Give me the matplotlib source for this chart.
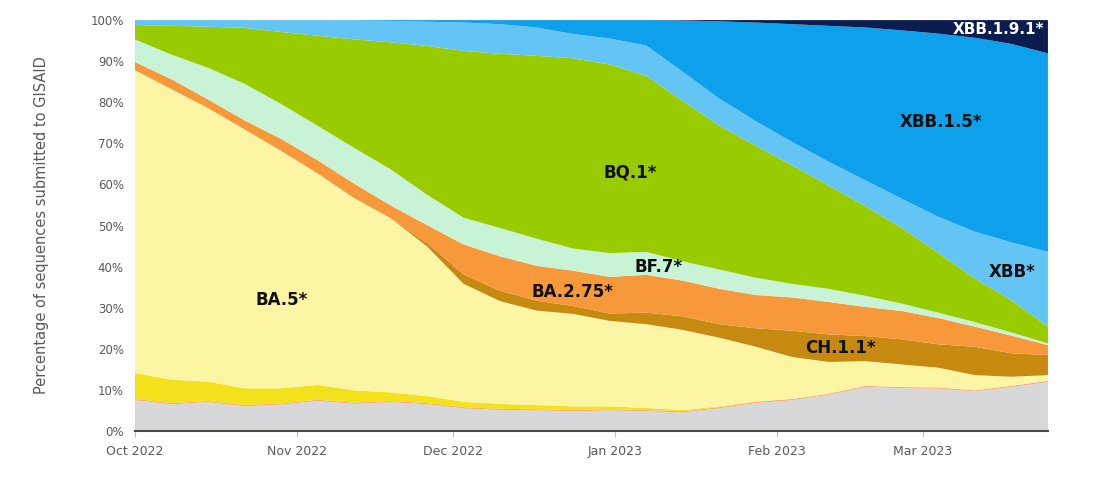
import matplotlib
matplotlib.use("Agg")
import matplotlib.pyplot as plt
import matplotlib.dates as mdates
import numpy as np
import pandas as pd

# Weekly sample dates (Oct 1 2022 .. Mar 25 2023)
dates = pd.date_range("2022-10-01", periods=26, freq="7D")

# Variant shares (% of sequences), bottom to top of the stack
other = [7.5, 6.5, 7.0, 6.0, 6.4, 7.3, 6.6, 7.0, 6.5, 5.5, 5.1, 5.0, 4.8,
         5.0, 4.8, 4.5, 5.5, 6.8, 7.5, 8.8, 10.7, 10.4, 10.3, 9.6, 10.7, 11.9]
ba2 = [0.3] * 26
ba46 = [6.3, 5.7, 4.7, 4.1, 3.7, 3.6, 3.0, 2.1, 1.7, 1.3, 1.2, 1.0, 0.9,
        0.7, 0.5, 0.3, 0.2, 0.1, 0.0, 0.0, 0.0, 0.0, 0.0, 0.0, 0.0, 0.0]
ba5 = [73.7, 70.7, 66.6, 63.0, 57.8, 51.5, 46.8, 42.4, 36.4, 28.7, 25.0, 23.0, 22.5,
       20.8, 20.4, 19.5, 16.7, 13.3, 10.2, 7.7, 6.0, 5.5, 4.8, 3.7, 2.2, 1.4]
ch11 = [0.0, 0.0, 0.0, 0.0, 0.0, 0.0, 0.0, 0.0, 0.8, 2.3, 2.5, 2.4, 1.9,
        1.8, 2.8, 3.3, 3.3, 4.5, 6.4, 6.7, 6.1, 6.1, 5.7, 6.9, 5.7, 4.9]
ba275 = [2.0, 2.4, 2.1, 2.2, 2.9, 3.2, 3.5, 3.1, 4.4, 7.3, 8.4, 8.5, 8.6,
         8.9, 9.2, 8.7, 8.6, 8.1, 8.1, 7.9, 7.1, 6.9, 6.4, 4.9, 4.3, 2.4]
bf7 = [5.5, 6.0, 7.7, 8.9, 8.5, 8.4, 8.7, 8.8, 7.4, 6.5, 6.9, 6.6, 5.4,
       5.8, 5.6, 4.7, 4.7, 4.2, 3.3, 3.2, 2.7, 1.8, 1.3, 1.1, 0.8, 0.4]
bq1 = [3.5, 7.0, 10.0, 13.6, 17.5, 21.9, 26.4, 30.9, 36.2, 40.6, 42.4, 44.5, 46.3,
       45.9, 42.8, 39.0, 35.0, 32.1, 28.8, 25.1, 21.8, 18.4, 14.5, 10.6, 7.8, 4.1]
xbb = [1.2, 1.4, 1.6, 1.9, 2.9, 3.8, 4.6, 5.2, 5.9, 6.9, 7.2, 6.9, 5.9,
       6.3, 7.4, 7.1, 6.6, 6.0, 5.7, 5.8, 6.3, 7.1, 8.8, 11.4, 14.1, 18.2]
xbb15 = [0.0, 0.0, 0.0, 0.0, 0.0, 0.0, 0.1, 0.2, 0.4, 0.6, 1.0, 1.8, 3.4,
         4.5, 6.2, 12.5, 18.8, 24.0, 28.7, 33.1, 37.2, 41.0, 44.6, 47.2, 48.3, 48.3]
xbb191 = [0.0, 0.0, 0.0, 0.0, 0.0, 0.0, 0.0, 0.0, 0.0, 0.0, 0.0, 0.0, 0.0,
          0.0, 0.0, 0.1, 0.3, 0.6, 1.0, 1.4, 1.8, 2.5, 3.3, 4.3, 5.8, 8.1]

series = [other, ba2, ba46, ba5, ch11, ba275, bf7, bq1, xbb, xbb15, xbb191]
colors = ["#d8d8da", "#f5ad7c", "#f3e11c", "#fcf5a3", "#c68a10", "#f7983a",
          "#c9f3d6", "#98cb00", "#64c5f5", "#0ea0ea", "#0b1d50"]

vals = np.array(series, dtype=float)
vals = vals / vals.sum(axis=0) * 100.0

fig = plt.figure(figsize=(11.08, 4.90), dpi=100)
ax = fig.add_axes([0.1218, 0.1204, 0.8240, 0.8386])
ax.stackplot(dates, vals, colors=colors, linewidth=0)

ax.set_xlim(dates[0], dates[-1])
ax.set_ylim(0, 100)
ax.set_yticks(np.arange(0, 101, 10))
ax.set_yticklabels([f"{v}%" for v in range(0, 101, 10)])
ax.xaxis.set_major_locator(mdates.MonthLocator())
ax.xaxis.set_major_formatter(mdates.DateFormatter("%b %Y"))

tick_col = "#595959"
ax.tick_params(axis="y", length=0, pad=8, labelsize=8.5, labelcolor=tick_col)
ax.tick_params(axis="x", length=4, color="#bfbfbf", pad=6, labelsize=9, labelcolor=tick_col)
for s in ["top", "right", "left"]:
    ax.spines[s].set_visible(False)
ax.spines["bottom"].set_color("#4a4a4a")
ax.spines["bottom"].set_linewidth(1.5)

ax.set_ylabel("Percentage of sequences submitted to GISAID", fontsize=10.5,
              color=tick_col, labelpad=30)

lab = dict(fontsize=12, fontweight="bold", ha="center", va="center", color="#111111")
d0 = dates[0]
def day(n):
    return d0 + pd.Timedelta(days=n)

ax.text(day(28.2), 31.9, "BA.5*", **lab)
ax.text(day(95.0), 63.0, "BQ.1*", **lab)
ax.text(day(100.4), 39.9, "BF.7*", **lab)
ax.text(day(83.9), 33.8, "BA.2.75*", **lab)
ax.text(day(135.3), 20.2, "CH.1.1*", **lab)
ax.text(day(154.5), 75.2, "XBB.1.5*", **lab)
ax.text(day(168.1), 38.7, "XBB*", **lab)
lab_w = dict(lab)
lab_w["color"] = "white"
lab_w["fontsize"] = 11
ax.text(day(165.5), 97.6, "XBB.1.9.1*", **lab_w)

fig.savefig("out.png", dpi=100, facecolor="white")
